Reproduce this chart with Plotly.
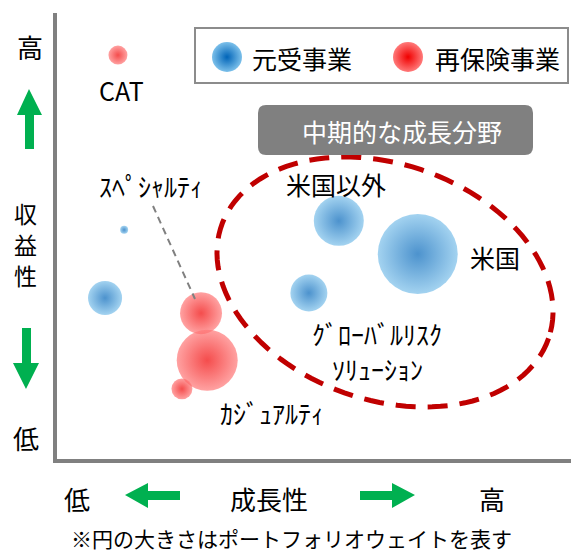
import numpy as np
import plotly.graph_objects as go

W, H = 571, 554
L, R, T, B = 55, 0, 13, 93          # plot area margins (px)
PW, PH = W - L - R, H - T - B

# ---- data (growth / profitability scores 0-10, portfolio weight) ----
blue_names  = ["その他元受(小)", "その他元受", "米国以外", "米国", "グローバルリスクソリューション"]
blue_growth = [1.34, 0.97, 5.50, 7.03, 4.92]
blue_profit = [5.16, 3.64, 5.36, 4.62, 3.75]
blue_weight = [0.64, 11.6, 25.0, 64.0, 13.7]

red_names  = ["CAT", "スペシャルティ", "カジュアルティ", "その他再保険"]
red_growth = [1.22, 2.83, 2.95, 2.46]
red_profit = [9.06, 3.30, 2.25, 1.61]
red_weight = [3.6, 17.6, 37.2, 4.4]

legend_labels = ["元受事業", "再保険事業"]

FONT = "Noto Sans CJK JP"
BLUE_EDGE, BLUE_CORE = "#7CC0EA", "#0064B8"
RED_EDGE, RED_CORE = "#FF7A7A", "#F00000"
GREEN = "#00B050"
GRAY = "#808080"
SIZEREF = 0.02


def px(x, y):
    """pixel -> paper coords"""
    return (x - L) / PW, (H - B - y) / PH


def pdata(x, y):
    """pixel -> data coords (ranges 0..10)"""
    return (x - L) / PW * 10, (H - B - y) / PH * 10


fig = go.Figure()

fig.add_trace(go.Scatter(
    x=blue_growth, y=blue_profit, mode="markers", text=blue_names,
    marker=dict(size=blue_weight, sizemode="area", sizeref=SIZEREF,
                color=BLUE_EDGE, gradient=dict(type="radial", color=BLUE_CORE),
                line=dict(width=0)),
    showlegend=False, hoverinfo="text"))

fig.add_trace(go.Scatter(
    x=red_growth, y=red_profit, mode="markers", text=red_names,
    marker=dict(size=red_weight, sizemode="area", sizeref=SIZEREF,
                color=RED_EDGE, gradient=dict(type="radial", color=RED_CORE),
                line=dict(width=0)),
    showlegend=False, hoverinfo="text"))

# legend sample markers
lb = pdata(227, 57)
lr = pdata(408, 57)
fig.add_trace(go.Scatter(x=[lb[0]], y=[lb[1]], mode="markers",
                         marker=dict(size=30, color=BLUE_EDGE,
                                     gradient=dict(type="radial", color=BLUE_CORE), line=dict(width=0)),
                         showlegend=False, hoverinfo="skip"))
fig.add_trace(go.Scatter(x=[lr[0]], y=[lr[1]], mode="markers",
                         marker=dict(size=30, color=RED_EDGE,
                                     gradient=dict(type="radial", color=RED_CORE), line=dict(width=0)),
                         showlegend=False, hoverinfo="skip"))

shapes = []
annotations = []


def text(x, y, s, size, color="black", xanchor="center", yanchor="middle"):
    px_, py_ = px(x, y)
    annotations.append(dict(x=px_, y=py_, xref="paper", yref="paper", text=s, showarrow=False,
                            xanchor=xanchor, yanchor=yanchor,
                            font=dict(family=FONT, size=size, color=color)))


# dashed ellipse (rotated)
cx, cy, a, b, th = 385, 282, 173, 118, np.deg2rad(19)
t = np.linspace(0, 2 * np.pi, 120)
ex = cx + a * np.cos(t) * np.cos(th) - b * np.sin(t) * np.sin(th)
ey = cy + a * np.cos(t) * np.sin(th) + b * np.sin(t) * np.cos(th)
pts = [px(x, y) for x, y in zip(ex, ey)]
path = "M " + " L ".join(f"{x:.5f},{y:.5f}" for x, y in pts) + " Z"
shapes.append(dict(type="path", path=path, xref="paper", yref="paper",
                   line=dict(color="#C00000", width=5, dash="20px,12px"), layer="above"))

# legend box
x0, y0 = px(195, 28)
x1, y1 = px(568, 83)
shapes.append(dict(type="rect", xref="paper", yref="paper", x0=x0, y0=y0, x1=x1, y1=y1,
                   line=dict(color="#8C8C8C", width=2), fillcolor="rgba(0,0,0,0)", layer="below"))
text(250, 58, legend_labels[0], 25, xanchor="left")
text(433, 58, legend_labels[1], 25, xanchor="left")

# gray rounded box
bx0, by0, bx1, by1, rr = 258, 105, 533, 155, 8
def rpath(x0, y0, x1, y1, r):
    pts = [(x0 + r, y0), (x1 - r, y0), (x1, y0 + r), (x1, y1 - r), (x1 - r, y1), (x0 + r, y1), (x0, y1 - r), (x0, y0 + r)]
    p = [px(*q) for q in pts]
    c = [px(x1, y0), px(x1, y1), px(x0, y1), px(x0, y0)]
    f = lambda q: f"{q[0]:.5f},{q[1]:.5f}"
    return (f"M {f(p[0])} L {f(p[1])} Q {f(c[0])} {f(p[2])} L {f(p[3])} Q {f(c[1])} {f(p[4])} "
            f"L {f(p[5])} Q {f(c[2])} {f(p[6])} L {f(p[7])} Q {f(c[3])} {f(p[0])} Z")
shapes.append(dict(type="path", path=rpath(bx0, by0, bx1, by1, rr), xref="paper", yref="paper",
                   fillcolor=GRAY, line=dict(width=0), layer="above"))
text(402, 131, "中期的な成長分野", 25, color="white")

# leader line for specialty
lx0, ly0 = px(153, 206)
lx1, ly1 = px(195, 299)
shapes.append(dict(type="line", xref="paper", yref="paper", x0=lx0, y0=ly0, x1=lx1, y1=ly1,
                   line=dict(color=GRAY, width=2, dash="7px,5px"), layer="above"))

# bubble labels
text(121, 90, "CAT", 25)
text(151, 185, "ｽﾍﾟｼｬﾙﾃｨ", 26)
text(336, 184, "米国以外", 25)
text(495, 257, "米国", 25)
text(377, 333, "ｸﾞﾛｰﾊﾞﾙﾘｽｸ", 26)
text(377, 368, "ｿﾘｭｰｼｮﾝ", 26)
text(272, 412, "ｶｼﾞｭｱﾙﾃｨ", 26)

# axis lines
ax0, ay0 = px(55, 13)
ax1, ay1 = px(55, 461)
shapes.append(dict(type="line", xref="paper", yref="paper", x0=ax0, y0=ay0, x1=ax1, y1=ay1,
                   line=dict(color=GRAY, width=4)))
bx0_, by0_ = px(53, 461)
bx1_, by1_ = px(571, 461)
shapes.append(dict(type="line", xref="paper", yref="paper", x0=bx0_, y0=by0_, x1=bx1_, y1=by1_,
                   line=dict(color=GRAY, width=4)))


def poly(points, color):
    p = [px(*q) for q in points]
    path = "M " + " L ".join(f"{x:.5f},{y:.5f}" for x, y in p) + " Z"
    shapes.append(dict(type="path", path=path, xref="paper", yref="paper",
                       fillcolor=color, line=dict(width=0)))


# vertical axis labels + arrows
text(30, 47, "高", 26)
poly([(29, 89), (42, 115), (34, 115), (34, 149), (25, 149), (25, 115), (17, 115)], GREEN)
text(25, 213, "収", 23)
text(25, 244, "益", 23)
text(25, 275, "性", 23)
poly([(22, 328), (31, 328), (31, 363), (39, 363), (26, 389), (13, 363), (22, 363)], GREEN)
text(26, 437, "低", 26)

# horizontal axis labels + arrows
text(77, 498, "低", 26)
poly([(125, 495), (148, 483), (148, 491), (180, 491), (180, 500), (148, 500), (148, 508)], GREEN)
text(269, 498, "成長性", 26)
poly([(415, 495), (392, 483), (392, 491), (360, 491), (360, 500), (392, 500), (392, 508)], GREEN)
text(492, 498, "高", 26)

text(291, 555, "※円の大きさはポートフォリオウェイトを表す", 21, yanchor="bottom")

fig.update_layout(
    width=W, height=H, margin=dict(l=L, r=R, t=T, b=B),
    paper_bgcolor="white", plot_bgcolor="white",
    xaxis=dict(range=[0, 10], visible=False, fixedrange=True),
    yaxis=dict(range=[0, 10], visible=False, fixedrange=True),
    shapes=shapes, annotations=annotations, showlegend=False,
)

fig.write_html("out.html")
